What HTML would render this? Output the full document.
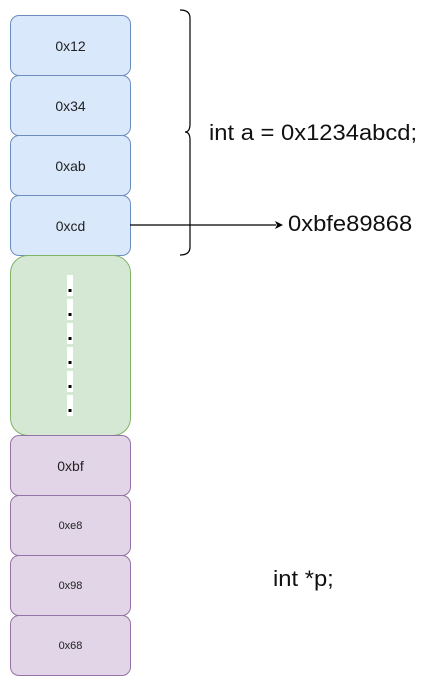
<!DOCTYPE html>
<html><head><style>
body{margin:0;width:439px;height:686px;background:#fff;font-family:"Liberation Sans",sans-serif;position:relative;overflow:hidden}
.b{position:absolute;left:10px;width:119px;height:59px;border:1px solid;border-radius:9px;display:flex;align-items:center;justify-content:center;font-size:14px;color:#222;box-sizing:content-box}
.bl{background:#dae8fc;border-color:#6c8ebf}
.pu{background:#e1d5e7;border-color:#9673a6}
.t{position:absolute;font-size:22px;color:#111;white-space:nowrap;transform:scaleX(1.08);transform-origin:left center}
</style></head><body>
<div class="b bl" style="top:15px">0x12</div>
<div class="b bl" style="top:75px">0x34</div>
<div class="b bl" style="top:135px">0xab</div>
<div class="b bl" style="top:195px">0xcd</div>
<div class="b" style="top:255px;height:179px;background:#d5e8d4;border-color:#82b366;border-radius:18px"></div>
<div class="b pu" style="top:435px">0xbf</div>
<div class="b pu" style="top:495px;font-size:11px">0xe8</div>
<div class="b pu" style="top:555px;font-size:11px">0x98</div>
<div class="b pu" style="top:615px;font-size:11px">0x68</div>
<svg width="439" height="686" style="position:absolute;left:0;top:0">
<g fill="#fff"><rect x="67" y="275" width="6" height="21"/><rect x="67" y="299" width="6" height="21"/><rect x="67" y="323" width="6" height="21"/><rect x="67" y="347" width="6" height="21"/><rect x="67" y="371" width="6" height="21"/><rect x="67" y="395" width="6" height="21"/></g>
<g fill="#000"><rect x="68.5" y="289" width="3" height="3"/><rect x="68.5" y="313" width="3" height="3"/><rect x="68.5" y="337" width="3" height="3"/><rect x="68.5" y="361" width="3" height="3"/><rect x="68.5" y="385" width="3" height="3"/><rect x="68.5" y="409" width="3" height="3"/></g>
<path d="M180 10 Q190 10 190 18 L190 124 Q190 132 185 132 Q190 132 190 140 L190 247 Q190 255 180 255" fill="none" stroke="#000" stroke-width="1.2"/>
<line x1="130" y1="225" x2="276" y2="225" stroke="#000" stroke-width="1.2"/>
<path d="M283 225 L275 221 L277 225 L275 229 Z" fill="#000"/>
</svg>
<div class="t" style="left:209px;top:120px">int a = 0x1234abcd;</div>
<div class="t" style="left:288px;top:211px">0xbfe89868</div>
<div class="t" style="left:273px;top:566px">int *p;</div>
</body></html>
